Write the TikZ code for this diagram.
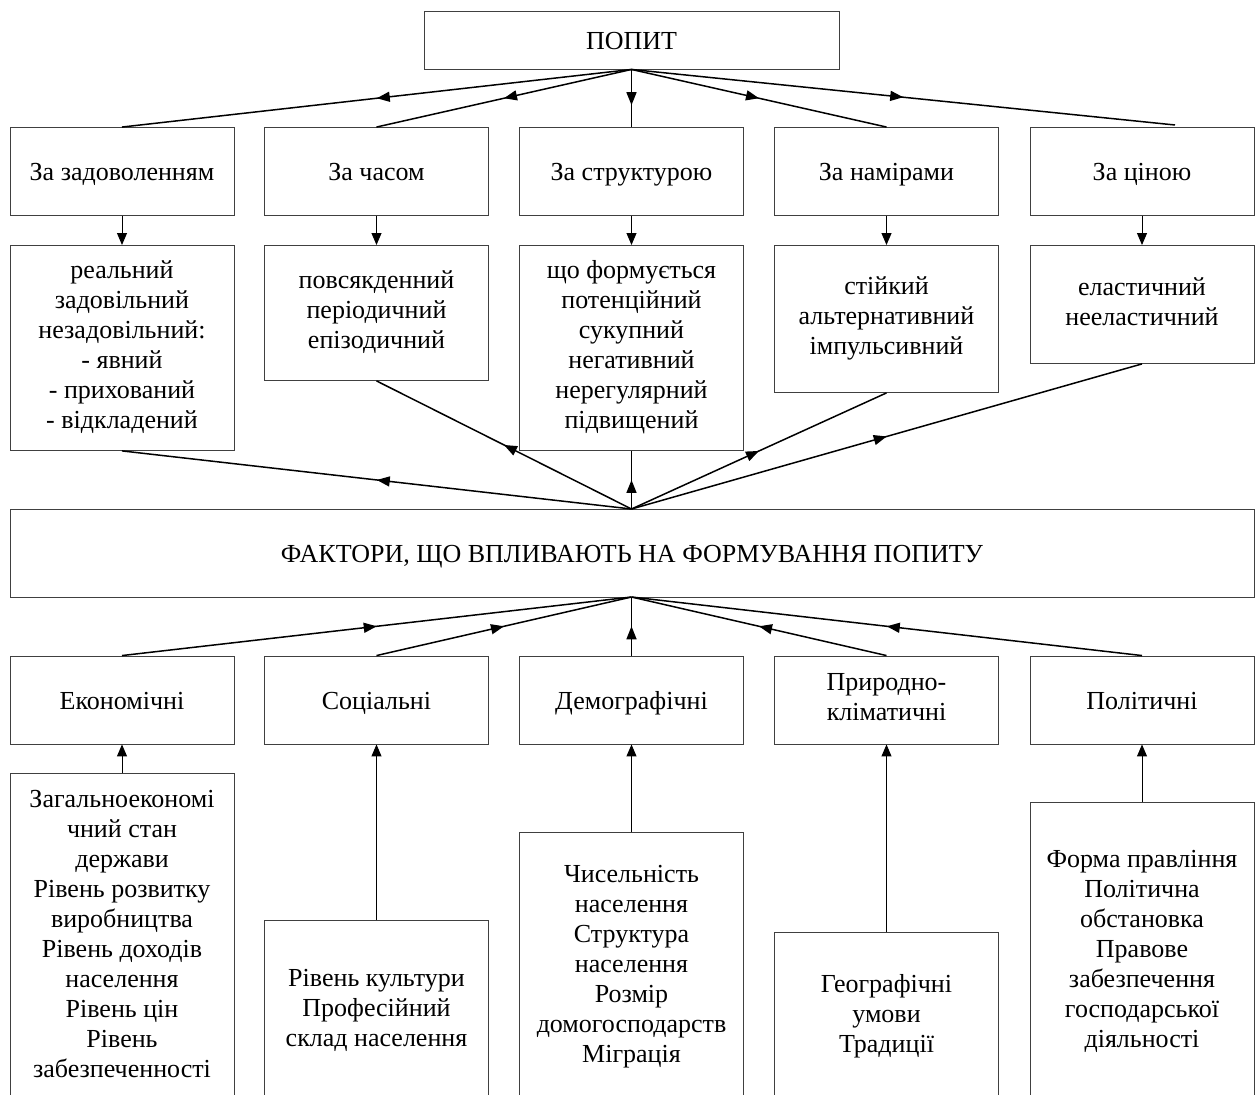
\documentclass[tikz,border=0pt]{standalone}
\usepackage{fontspec}
\setmainfont{Liberation Serif}
\usetikzlibrary{arrows.meta,decorations.markings,calc}
% struts that fix the height of the first and the depth of the last text line
\newcommand{\topstrut}{\rule{0pt}{24pt}}
\newcommand{\botstrut}{\rule[-6pt]{0pt}{6pt}}
\begin{document}
\begin{tikzpicture}[x=1pt,y=-1pt,
  box/.style={draw=black!75, line width=0.9pt, fill=white, align=center,
    inner sep=1pt, minimum width=224pt, font=\fontsize{26}{30}\selectfont,
    execute at begin node=\topstrut, execute at end node=\botstrut},
  fan/.style={line width=1.5pt, postaction={decorate},
    decoration={markings, mark=at position #1 with {\arrow{Triangle[length=13pt,width=10pt]}}}},
  fan/.default=0.5,
  link/.style={line width=1pt, -{Triangle[length=12pt,width=10pt]}}
]
\useasboundingbox (0,0) rectangle (1256,1095);
\clip (0,0) rectangle (1256,1095);

% top node
\node[box, minimum width=415pt, minimum height=58pt] (popyt) at (631.5,40) {ПОПИТ};

% classification criteria
\node[box, minimum height=88pt] (ca) at (122,171.5) {За задоволенням};
\node[box, minimum height=88pt] (cb) at (376.5,171.5) {За часом};
\node[box, minimum height=88pt] (cc) at (631.5,171.5) {За структурою};
\node[box, minimum height=88pt] (cd) at (886.5,171.5) {За намірами};
\node[box, minimum height=88pt] (ce) at (1142,171.5) {За ціною};

% kinds of demand
\node[box, anchor=north, minimum height=205pt] (ka) at (122,245)
  {реальний\\задовільний\\незадовільний:\\- явний\\- прихований\\- відкладений};
\node[box, anchor=north, minimum height=135pt] (kb) at (376.5,245)
  {повсякденний\\періодичний\\епізодичний};
\node[box, anchor=north, minimum height=205pt] (kc) at (631.5,245)
  {що формується\\потенційний\\сукупний\\негативний\\нерегулярний\\підвищений};
\node[box, anchor=north, minimum height=147pt] (kd) at (886.5,245)
  {стійкий\\альтернативний\\імпульсивний};
\node[box, anchor=north, minimum height=118pt] (ke) at (1142,245)
  {еластичний\\нееластичний};

% factors
\node[box, minimum width=1244pt, minimum height=88pt] (fact) at (632,553)
  {ФАКТОРИ, ЩО ВПЛИВАЮТЬ НА ФОРМУВАННЯ ПОПИТУ};

% groups of factors
\node[box, minimum height=88pt] (ga) at (122,700) {Економічні};
\node[box, minimum height=88pt] (gb) at (376.5,700) {Соціальні};
\node[box, minimum height=88pt] (gc) at (631.5,700) {Демографічні};
\node[box, minimum height=88pt] (gd) at (886.5,700) {Природно-\\кліматичні};
\node[box, minimum height=88pt] (ge) at (1142,700) {Політичні};

% details of factors
\node[box, anchor=north, minimum height=327pt] (da) at (122,773)
  {Загальноекономі\\чний стан\\держави\\Рівень розвитку\\виробництва\\Рівень доходів\\населення\\Рівень цін\\Рівень\\забезпеченності};
\node[box, anchor=north, minimum height=180pt] (db) at (376.5,920)
  {Рівень культури\\Професійний\\склад населення};
\node[box, anchor=north, minimum height=268pt] (dc) at (631.5,832)
  {Чисельність\\населення\\Структура\\населення\\Розмір\\домогосподарств\\Міграція};
\node[box, anchor=north, minimum height=168pt] (dd) at (886.5,932)
  {Географічні\\умови\\Традиції};
\node[box, anchor=north, minimum height=298pt] (de) at (1142,802)
  {Форма правління\\Політична\\обстановка\\Правове\\забезпечення\\господарської\\діяльності};

% upper fan
\coordinate (o1) at (popyt.south);
\coordinate (t5) at (1175,125);
\draw[fan] (o1) -- (ca.north);
\draw[fan] (o1) -- (cb.north);
\draw[fan=0.62] (o1) -- (cc.north);
\draw[fan] (o1) -- (cd.north);
\draw[fan] (o1) -- (t5);

% criteria to kinds
\foreach \a/\b in {ca/ka, cb/kb, cc/kc, cd/kd, ce/ke}
  \draw[link] (\a) -- (\b);

% middle fan
\coordinate (o2) at (631.5,509);
\draw[fan] (o2) -- (ka.south);
\draw[fan] (o2) -- (kb.south);
\draw[fan] (o2) -- (kc.south);
\draw[fan] (o2) -- (kd.south);
\draw[fan] (o2) -- (ke.south);

% lower fan
\coordinate (o3) at (631.5,597);
\draw[fan] (ga.north) -- (o3);
\draw[fan] (gb.north) -- (o3);
\draw[fan] (gc.north) -- (o3);
\draw[fan] (gd.north) -- (o3);
\draw[fan] (ge.north) -- (o3);

% details to groups
\foreach \a/\b in {da/ga, db/gb, dc/gc, dd/gd, de/ge}
  \draw[link] (\a) -- (\b);
\end{tikzpicture}
\end{document}
